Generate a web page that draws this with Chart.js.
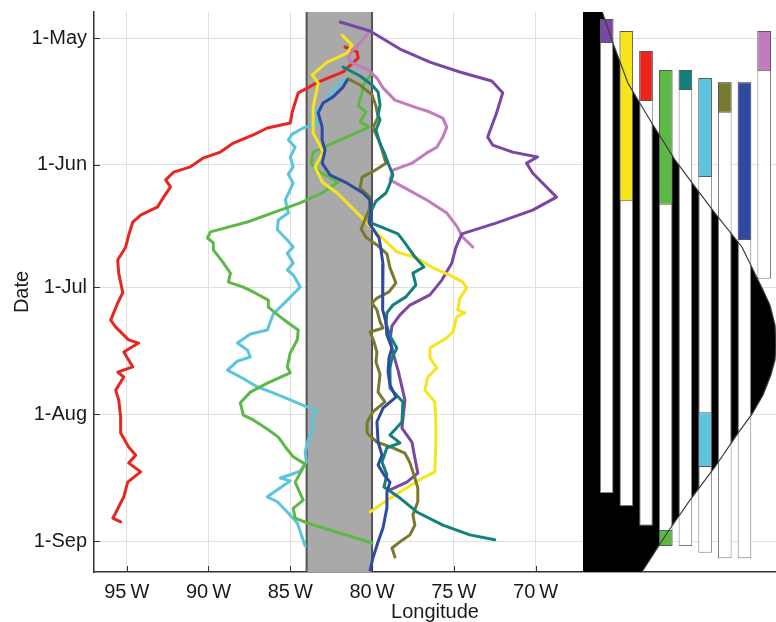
<!DOCTYPE html>
<html><head><meta charset="utf-8">
<script src="https://cdn.jsdelivr.net/npm/chart.js@4.4.0/dist/chart.umd.min.js"></script>
<style>
html,body{margin:0;padding:0;background:#fff;}
#wrap{position:relative;width:776px;height:622px;overflow:hidden;background:#fff;}
#left{position:absolute;left:0;top:0;}
#right{position:absolute;left:583px;top:0;}
</style></head><body>
<div id="wrap"><canvas id="left" width="583" height="622"></canvas><canvas id="right" width="193" height="622"></canvas></div>
<script>
// ---- axis ticks (dates as day-of-year) ----
const dateTickDays = [121, 152, 182, 213, 244];
const dateTickLabels = ['1-May', '1-Jun', '1-Jul', '1-Aug', '1-Sep'];
const lonTicks = [-95, -90, -85, -80, -75, -70];
const lonTickLabels = ['95\u2009W', '90\u2009W', '85\u2009W', '80\u2009W', '75\u2009W', '70\u2009W'];
const bandLon = [-84, -80];
const xTitle = 'Longitude';
const yTitle = 'Date';

// ---- tracks: [longitude, day-of-year] ----
const redTrack = [[-81.65,123.2],[-80.91,124.4],[-80.85,125.9],[-81.77,129.3],[-83.29,131.8],[-84.51,134.4],[-84.88,139.1],[-85.0,141.8],[-86.4,143.0],[-87.26,144.7],[-88.48,146.7],[-89.27,148.9],[-90.3,150.3],[-91.1,152.5],[-92.13,153.8],[-92.62,155.7],[-92.32,157.4],[-92.74,159.9],[-93.11,162.3],[-94.15,164.3],[-94.63,166.0],[-94.88,169.2],[-95.06,172.1],[-95.55,175.3],[-95.49,178.5],[-95.24,183.3],[-95.55,185.8],[-95.98,190.0],[-95.67,191.7],[-94.88,194.8],[-94.27,195.6],[-95.18,197.8],[-94.63,201.4],[-95.55,202.7],[-95.18,203.9],[-95.67,207.1],[-95.49,209.5],[-95.37,213.7],[-95.37,217.6],[-94.88,221.0],[-94.45,223.0],[-94.88,224.9],[-94.15,227.1],[-94.94,229.6],[-95.18,233.2],[-95.67,237.1],[-95.85,238.4],[-95.37,239.3]];
const yellowTrack = [[-81.83,120.3],[-81.22,122.7],[-81.52,124.7],[-82.74,126.9],[-83.66,130.0],[-83.29,132.0],[-83.60,137.9],[-83.60,144.2],[-82.99,148.9],[-83.48,152.5],[-83.05,156.2],[-82.13,158.9],[-80.73,164.5],[-79.70,168.7],[-78.48,173.3],[-77.26,174.8],[-76.28,177.2],[-75.24,179.0],[-74.45,180.7],[-74.21,182.1],[-74.63,184.6],[-74.76,187.5],[-74.33,188.2],[-74.82,189.2],[-75.06,192.9],[-75.43,194.3],[-76.46,196.8],[-76.46,199.2],[-76.04,201.7],[-76.59,203.9],[-76.77,207.1],[-76.16,210.0],[-76.10,214.4],[-76.10,220.5],[-76.16,227.1],[-76.89,228.6],[-78.29,232.0],[-79.33,234.7],[-80.12,236.9]];
const purpleTrack = [[-81.95,117.1],[-80.12,119.3],[-78.29,123.7],[-76.46,126.9],[-74.63,129.3],[-72.68,131.5],[-72.01,134.4],[-72.38,139.3],[-72.93,145.2],[-72.62,147.2],[-71.40,148.9],[-69.88,150.1],[-70.55,151.6],[-70.18,154.0],[-68.72,159.9],[-70.18,163.1],[-72.38,166.2],[-74.51,168.9],[-74.88,172.3],[-75.12,176.0],[-75.73,180.2],[-76.46,183.8],[-77.68,186.3],[-78.29,188.7],[-78.78,191.4],[-78.90,194.8],[-78.72,198.0],[-78.41,202.2],[-77.99,209.5],[-78.17,216.4],[-77.56,219.8],[-77.38,223.7],[-77.20,227.4],[-77.87,229.6],[-78.90,231.5]];
const pinkTrack = [[-80.24,119.8],[-80.73,122.2],[-81.34,124.7],[-81.46,125.9],[-81.22,127.1],[-80.30,128.6],[-79.70,130.8],[-79.33,133.2],[-78.60,136.2],[-77.38,137.9],[-76.46,139.1],[-75.67,140.6],[-75.43,142.8],[-75.67,145.2],[-76.04,147.7],[-76.65,149.1],[-77.56,151.6],[-78.72,153.3],[-78.90,155.7],[-78.11,157.4],[-76.65,160.6],[-75.43,163.8],[-74.82,167.0],[-74.45,169.7],[-73.84,172.1]];
const greenTrack = [[-80.0,129.5],[-80.55,132.5],[-80.61,134.4],[-80.85,137.6],[-80.37,139.1],[-80.73,141.5],[-80.18,142.8],[-81.95,145.9],[-83.60,148.9],[-83.72,151.8],[-83.17,153.8],[-82.07,156.2],[-83.05,158.9],[-84.39,161.3],[-85.61,163.1],[-87.62,166.0],[-89.88,168.4],[-90.06,169.9],[-89.70,171.1],[-89.70,172.8],[-89.09,176.0],[-88.66,178.5],[-88.78,180.7],[-87.87,181.9],[-87.26,183.1],[-86.34,185.1],[-86.34,186.8],[-85.61,189.2],[-85.12,190.7],[-84.51,192.4],[-84.57,194.8],[-85.0,198.0],[-85.18,201.4],[-85.0,202.9],[-86.40,205.4],[-87.44,207.6],[-88.05,210.2],[-87.87,213.2],[-87.26,214.4],[-86.34,216.8],[-85.73,218.6],[-85.30,221.0],[-84.82,223.4],[-84.09,225.2],[-84.70,229.6],[-84.21,234.0],[-84.82,236.0],[-84.70,238.4],[-83.96,239.6],[-80.0,244.5]];
const tealTrack = [[-81.77,128.1],[-80.73,130.3],[-80.0,132.5],[-79.63,134.2],[-79.51,137.4],[-79.63,139.8],[-79.51,141.0],[-79.76,143.5],[-79.51,146.9],[-79.27,148.9],[-79.02,151.6],[-78.72,154.5],[-78.96,157.2],[-79.15,158.9],[-79.76,160.9],[-80.12,163.8],[-80.18,166.0],[-79.27,167.5],[-78.41,168.9],[-77.99,171.1],[-77.38,174.5],[-76.83,177.0],[-77.50,178.5],[-77.32,181.4],[-77.93,184.3],[-78.72,186.3],[-79.09,188.2],[-79.15,190.7],[-78.90,193.9],[-78.48,196.8],[-78.78,199.2],[-78.90,201.7],[-78.90,206.6],[-78.11,210.0],[-78.17,214.9],[-78.90,218.1],[-78.29,220.0],[-79.09,221.2],[-79.39,224.7],[-79.09,227.8],[-79.27,230.8],[-78.29,233.5],[-77.26,236.9],[-75.67,240.1],[-74.02,242.5],[-72.50,243.7]];
const cyanTrack = [[-81.65,131.0],[-82.20,133.0],[-82.68,135.4],[-83.17,137.9],[-83.54,139.3],[-83.17,141.8],[-84.21,143.0],[-84.88,144.5],[-85.12,145.9],[-84.70,147.7],[-85.0,150.1],[-84.82,152.5],[-85.12,154.3],[-84.82,156.5],[-85.30,160.6],[-85.12,163.8],[-85.73,165.5],[-85.79,167.9],[-85.18,170.4],[-84.82,172.1],[-85.18,173.6],[-84.82,176.0],[-85.18,177.7],[-84.82,178.9],[-84.39,181.9],[-85.18,185.1],[-86.04,188.5],[-86.40,192.4],[-87.44,193.4],[-88.23,195.6],[-87.62,197.3],[-87.44,199.0],[-88.23,200.0],[-88.84,202.2],[-88.05,203.9],[-87.01,206.3],[-86.04,207.8],[-85.0,209.5],[-84.09,211.0],[-83.35,212.0],[-83.66,213.9],[-83.60,216.4],[-83.90,219.3],[-84.09,222.2],[-84.02,224.7],[-84.39,226.9],[-85.0,227.8],[-85.61,228.6],[-85.0,229.3],[-86.40,233.2],[-85.79,234.4],[-85.18,236.9],[-84.57,239.6],[-84.09,245.2]];
const oliveTrack = [[-81.46,131.0],[-80.73,132.5],[-80.0,134.9],[-79.76,137.6],[-79.63,140.3],[-79.94,143.0],[-79.51,146.7],[-79.15,151.6],[-79.88,153.5],[-80.61,155.0],[-80.73,157.7],[-80.12,159.9],[-80.18,163.1],[-80.49,166.0],[-80.67,167.7],[-80.37,169.7],[-79.70,171.6],[-79.09,173.8],[-78.90,177.2],[-78.54,180.9],[-78.96,183.1],[-79.70,184.6],[-80.0,185.8],[-79.70,187.5],[-79.51,190.4],[-79.33,191.9],[-80.12,192.9],[-79.88,195.3],[-79.70,197.8],[-79.76,200.2],[-79.51,203.2],[-79.63,207.6],[-79.21,210.0],[-79.94,212.4],[-80.30,214.9],[-80.30,217.6],[-79.70,219.8],[-78.72,221.2],[-77.99,222.5],[-77.68,224.9],[-77.44,227.8],[-77.20,231.0],[-77.20,234.4],[-77.50,237.6],[-77.38,240.1],[-77.68,242.5],[-78.29,244.2],[-78.78,245.7],[-78.60,247.9]];
const blueTrack = [[-81.52,131.3],[-81.77,133.0],[-82.38,135.4],[-82.99,136.9],[-83.29,139.3],[-83.05,142.8],[-83.05,145.9],[-82.87,148.4],[-83.05,151.6],[-82.56,154.5],[-81.52,156.5],[-80.55,158.9],[-80.12,160.6],[-80.06,163.8],[-80.18,166.2],[-79.57,169.9],[-79.45,172.8],[-79.33,176.3],[-79.33,179.9],[-79.39,183.8],[-79.33,187.5],[-79.15,190.4],[-79.09,193.6],[-78.78,196.8],[-78.96,199.2],[-79.02,202.7],[-78.90,205.8],[-78.54,208.8],[-79.33,211.5],[-79.70,214.9],[-79.63,219.8],[-79.39,223.0],[-79.63,225.4],[-79.27,227.8],[-78.90,229.6],[-79.09,232.0],[-79.09,235.9],[-79.33,240.8],[-79.63,244.2],[-79.94,248.1],[-80.12,251.1]];

// ---- right panel: per-track date spans (day-of-year) ----
const spanNames  = ['purple','yellow','red','green','teal','cyan','olive','blue','pink'];
const spanStart  = [116.35, 119.3, 124.2, 128.8, 128.8, 130.8, 131.8, 131.8, 119.3];
const spanEnd    = [232.3, 235.45, 240.3, 245.2, 245.2, 246.9, 248.2, 248.2, 179.9];
const inBandFrom = [116.35, 119.3, 124.2, 128.8, 128.8, 130.8, 131.8, 131.8, 119.3];
const inBandTo   = [122.2, 160.9, 136.4, 161.8, 133.7, 155.0, 139.3, 170.4, 129.1];
const laterBandTrack = ['green', 'cyan'];
const laterBandFrom  = [241.3, 212.5];
const laterBandTo    = [245.2, 225.9];

// ---- right panel: black seasonal curve (value, day-of-year) ----
const curveDay = [114.64, 122.2, 132.0, 141.05, 150.8, 157.4, 163.8, 172.1, 182.6, 186.3, 191.2, 196.1, 199.7, 203.4, 208.3, 213.0, 217.6, 225.9, 234.0, 242.1, 251.58];
const curveVal = [0.78, 1.32, 2.08, 3.2, 4.47, 5.49, 6.5, 7.87, 8.94, 9.29, 9.55, 9.6, 9.55, 9.34, 8.94, 8.38, 7.67, 6.5, 5.23, 4.06, 2.79];

const COLORS = {red:'#e8261f', yellow:'#f6e51a', purple:'#7b47a6', pink:'#c27bbf', green:'#5cb946', teal:'#13807c', cyan:'#5dc4dd', olive:'#7a7a2e', blue:'#2f4ba1'};
const FONT = '"Liberation Sans", Arial, Helvetica, sans-serif';
const TEXT = '#1a1a1a';
const GRID = '#e0e0e0';
const Y_MIN = 114.64, Y_MAX = 251.58;

const tracks = [
  ['blue', blueTrack], ['teal', tealTrack], ['olive', oliveTrack], ['yellow', yellowTrack],
  ['purple', purpleTrack], ['pink', pinkTrack], ['green', greenTrack], ['cyan', cyanTrack], ['red', redTrack]
];

const bandPlugin = {
  id: 'band',
  beforeDatasetsDraw(chart) {
    const {ctx, chartArea: {top, bottom}, scales: {x}} = chart;
    const x0 = x.getPixelForValue(bandLon[0]), x1 = x.getPixelForValue(bandLon[1]);
    ctx.save();
    ctx.fillStyle = '#a9a9a9';
    ctx.fillRect(x0, top, x1 - x0, bottom - top);
    ctx.strokeStyle = '#555';
    ctx.lineWidth = 2;
    ctx.beginPath();
    ctx.moveTo(x0, top); ctx.lineTo(x0, bottom);
    ctx.moveTo(x1, top); ctx.lineTo(x1, bottom);
    ctx.stroke();
    ctx.restore();
  }
};
const tickPlugin = {
  id: 'inTicks',
  afterDraw(chart) {
    const {ctx, chartArea: {left, bottom}, scales: {x, y}} = chart;
    ctx.save();
    ctx.strokeStyle = '#333';
    ctx.lineWidth = 1;
    ctx.beginPath();
    dateTickDays.forEach(d => { const p = Math.round(y.getPixelForValue(d)) + 0.5; ctx.moveTo(left, p); ctx.lineTo(left + 6, p); });
    lonTicks.forEach(v => { const p = Math.round(x.getPixelForValue(v)) + 0.5; ctx.moveTo(p, bottom); ctx.lineTo(p, bottom - 6); });
    ctx.stroke();
    ctx.font = '20px ' + FONT;
    ctx.fillStyle = TEXT;
    ctx.textAlign = 'center';
    ctx.textBaseline = 'alphabetic';
    ctx.fillText(xTitle, 435, 618);
    ctx.restore();
  }
};

new Chart(document.getElementById('left'), {
  type: 'scatter',
  data: {
    datasets: tracks.map(([name, pts], i) => ({
      label: name,
      data: pts.map(p => ({x: p[0], y: p[1]})),
      showLine: true,
      borderColor: COLORS[name],
      backgroundColor: COLORS[name],
      borderWidth: 3,
      pointRadius: 0,
      tension: 0,
      borderJoinStyle: 'round',
      borderCapStyle: 'round',
      order: i
    }))
  },
  options: {
    responsive: false, animation: false, devicePixelRatio: 1,
    layout: {padding: {top: 12, right: 0, left: 0, bottom: 0}},
    plugins: {legend: {display: false}, tooltip: {enabled: false}},
    scales: {
      x: {
        type: 'linear', min: -97, max: -67.1,
        afterBuildTicks: s => { s.ticks = lonTicks.map(v => ({value: v})); },
        afterFit: s => { s.height = 50; s.paddingLeft = 0; s.paddingRight = 0; },
        ticks: {callback: (v, i) => lonTickLabels[i], font: {family: FONT, size: 20}, color: TEXT, padding: 8, maxRotation: 0, autoSkip: false},
        grid: {color: GRID, lineWidth: 1, drawTicks: false},
        border: {display: true, color: '#333', width: 1.5}
      },
      y: {
        type: 'linear', min: Y_MIN, max: Y_MAX, reverse: true,
        afterBuildTicks: s => { s.ticks = dateTickDays.map(v => ({value: v})); },
        afterFit: s => { s.width = 94; s.paddingTop = 0; s.paddingBottom = 0; },
        ticks: {callback: (v, i) => dateTickLabels[i], font: {family: FONT, size: 20}, color: TEXT, padding: 7, autoSkip: false},
        grid: {color: GRID, lineWidth: 1, drawTicks: false},
        border: {display: true, color: '#333', width: 1.5},
        title: {display: true, text: yTitle, font: {family: FONT, size: 20}, color: TEXT, padding: {top: 10, bottom: 0}}
      }
    }
  },
  plugins: [bandPlugin, tickPlugin]
});

// right panel
const curvePts = curveVal.map((v, i) => ({x: v, y: curveDay[i]}));
const X_MIN = -0.2, X_MAX = 9.6;
const areaPts = [{x: X_MIN, y: curveDay[0]}].concat(curvePts, [{x: X_MIN, y: curveDay[curveDay.length - 1]}]);
const segData = spanNames.map((n, i) => ({x: i + 1, y: [inBandFrom[i], inBandTo[i]]}))
  .concat(laterBandTrack.map((n, i) => ({x: spanNames.indexOf(n) + 1, y: [laterBandFrom[i], laterBandTo[i]]})));
const segColors = spanNames.map(n => COLORS[n]).concat(laterBandTrack.map(n => COLORS[n]));

new Chart(document.getElementById('right'), {
  type: 'bar',
  data: {
    datasets: [
      {type: 'line', data: curvePts, borderColor: '#3c3c3c', borderWidth: 1.2, pointRadius: 0, fill: false, tension: 0, order: 0},
      {type: 'bar', data: segData, backgroundColor: segColors, borderColor: '#5a5a5a', borderWidth: 1, grouped: false, barPercentage: 0.69, categoryPercentage: 1, borderSkipped: false, order: 1},
      {type: 'bar', data: spanNames.map((n, i) => ({x: i + 1, y: [spanStart[i], spanEnd[i]]})), backgroundColor: '#ffffff', borderColor: '#7d7d7d', borderWidth: 1, grouped: false, barPercentage: 0.69, categoryPercentage: 1, borderSkipped: false, order: 2},
      {type: 'line', data: areaPts, backgroundColor: '#000000', borderColor: '#000000', borderWidth: 0, pointRadius: 0, fill: 'shape', tension: 0, order: 3}
    ]
  },
  options: {
    responsive: false, animation: false, devicePixelRatio: 1,
    layout: {padding: {top: 12, right: 0, left: 0, bottom: 0}},
    plugins: {legend: {display: false}, tooltip: {enabled: false}},
    scales: {
      x: {
        type: 'linear', min: X_MIN, max: X_MAX, offset: false,
        ticks: {display: false},
        grid: {display: true, color: 'rgba(0,0,0,0)', drawTicks: false, offset: false},
        border: {display: true, color: '#333', width: 1.5},
        afterFit: s => { s.height = 50; s.paddingLeft = 0; s.paddingRight = 0; }
      },
      y: {
        type: 'linear', min: Y_MIN, max: Y_MAX, reverse: true,
        afterBuildTicks: s => { s.ticks = dateTickDays.map(v => ({value: v})); },
        ticks: {display: false},
        grid: {color: GRID, lineWidth: 1, drawTicks: false},
        border: {display: false},
        afterFit: s => { s.width = 0; s.paddingTop = 0; s.paddingBottom = 0; }
      }
    }
  }
});
</script>
</body></html>
